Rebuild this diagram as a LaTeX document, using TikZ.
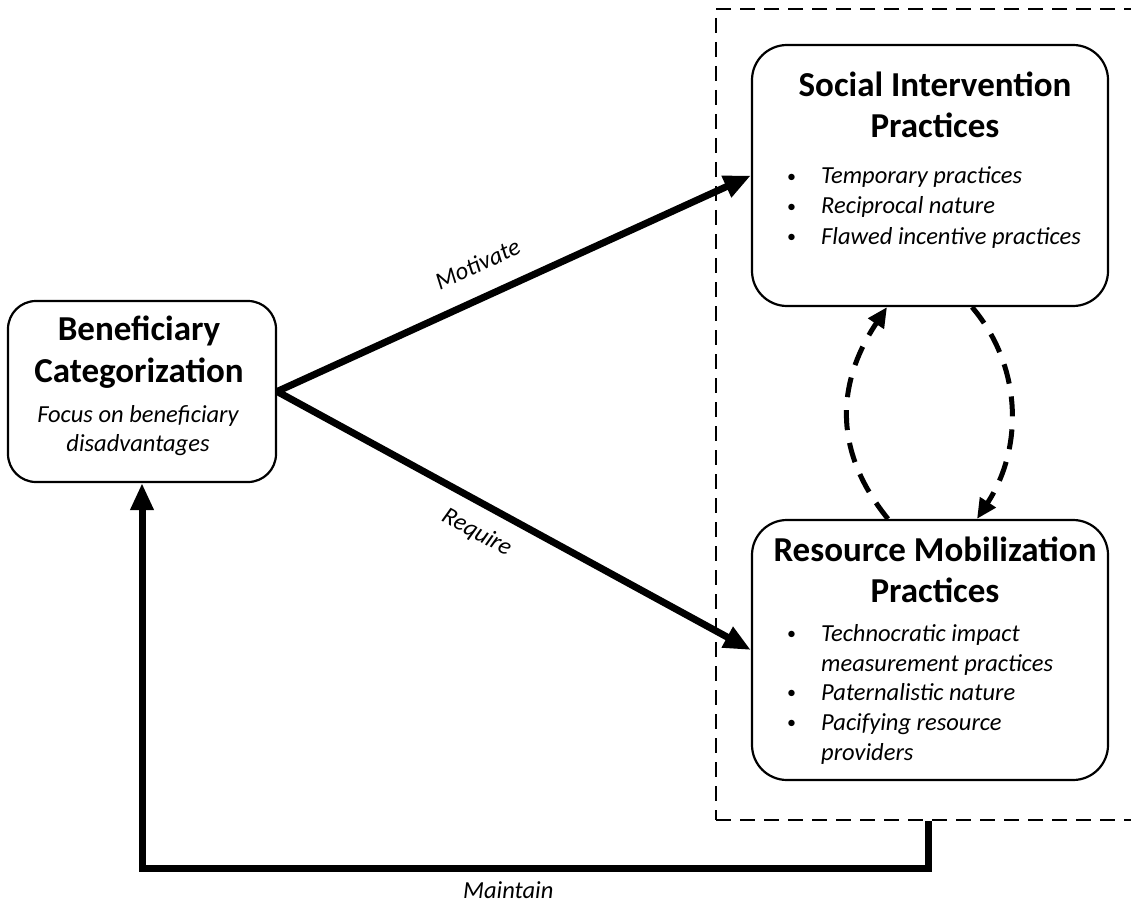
\documentclass[tikz,border=0pt]{standalone}
\usepackage{fontspec}
\setmainfont{Carlito}
\usetikzlibrary{arrows.meta}

\newcommand\itembullet{\makebox[34pt][l]{\upshape\raisebox{1.5pt}{\fontsize{18pt}{18pt}\selectfont\textbullet}}}

\tikzset{
  box/.style={draw, line width=2.2pt, rounded corners=35pt, inner sep=0pt},
  title/.style={anchor=base, inner sep=0pt, font=\fontsize{35pt}{42pt}\selectfont\bfseries},
  note/.style={anchor=base, inner sep=0pt, font=\fontsize{24.5pt}{29pt}\selectfont\itshape},
  item/.style={anchor=base west, inner sep=0pt, font=\fontsize{24.5pt}{29pt}\selectfont\itshape},
  edgetag/.style={inner sep=0pt, font=\fontsize{24.5pt}{29pt}\selectfont\itshape},
  flowarrow/.style={line width=7pt, -{Triangle[length=27pt,width=22pt]}},
  looparrow/.style={line width=5pt, dash pattern=on 20pt off 13pt, -{Triangle[length=20pt,width=18pt]}},
  grpframe/.style={draw, line width=2pt, dash pattern=on 15pt off 9pt, inner sep=0pt},
}

\begin{document}
\begin{tikzpicture}[x=1pt, y=1pt]
\clip (0,0) rectangle (1131,-901);

% dashed group round the two practice boxes (runs off the right edge)
\node[grpframe, minimum width=430pt, minimum height=811pt] (grp) at (931,-414.5) {};

% boxes
\node[box, minimum width=268pt, minimum height=181pt, rounded corners=28pt] (ben) at (142,-391.5) {};
\node[box, minimum width=356pt, minimum height=261pt] (soc) at (930,-175.5) {};
\node[box, minimum width=356pt, minimum height=260pt] (res) at (930,-650) {};

% box texts
\node[title] (ben-t1) at (139,-340) {Beneficiary};
\node[title] (ben-t2) at (139,-382) {Categorization};
\node[note] (ben-n1) at (138,-422) {Focus on beneficiary};
\node[note] (ben-n2) at (138,-451) {disadvantages};

\node[title] (soc-t1) at (935,-97) {Social Intervention};
\node[title] (soc-t2) at (935,-138) {Practices};
\foreach \n/\y/\t in {1/184/Temporary practices, 2/214/Reciprocal nature, 3/244/Flawed incentive practices}
  \node[item] (soc-i\n) at (787,-\y) {\itembullet\t};

\node[title] (res-t1) at (935,-561) {Resource Mobilization};
\node[title] (res-t2) at (935,-602) {Practices};
\node[item] (res-i1) at (787,-641) {\itembullet Technocratic impact};
\node[item] (res-i1b) at (821,-671) {measurement practices};
\node[item] (res-i2) at (787,-700) {\itembullet Paternalistic nature};
\node[item] (res-i3) at (787,-730) {\itembullet Pacifying resource};
\node[item] (res-i3b) at (821,-760) {providers};

% connectors
\draw[flowarrow] (ben.east) -- node[edgetag, pos=0.452, sloped, above=21pt] (mot) {Motivate} (soc.west);
\draw[flowarrow] (ben.east) -- node[edgetag, pos=0.45, sloped, below=14.6pt] (req) {Require} (res.west);

\draw[looparrow] ([xshift=-42pt]res.north) .. controls +(-56,69) and +(-50,-75) .. ([xshift=-43pt]soc.south);
\draw[looparrow] ([xshift=42pt]soc.south) .. controls +(51,-60) and +(46,70) .. ([xshift=47pt]res.north);

\coordinate (mt) at ([xshift=-3pt]grp.south);
\draw[flowarrow] (mt) -- ++(0,-47) -| node[edgetag, pos=0.267, below=10pt] (mtn) {Maintain} (ben.south);
\end{tikzpicture}
\end{document}
